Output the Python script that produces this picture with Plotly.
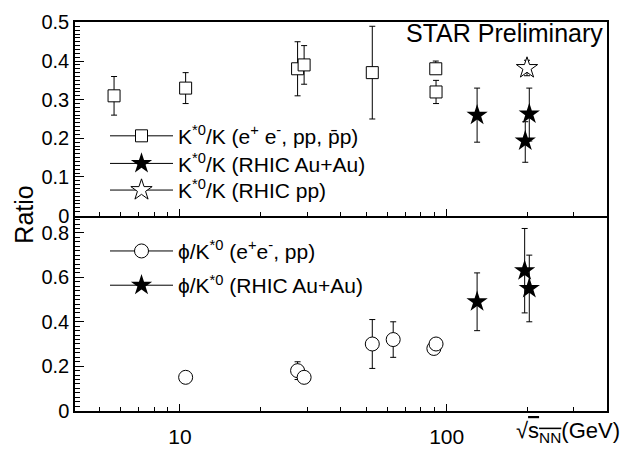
import plotly.graph_objects as go
import math

# ---- data ----
# K*0/K, elementary collisions (e+e-, pp, pbar-p)
kk_ee_x = [5.66, 10.5, 27.6, 29.2, 52.6, 91.0, 91.2]
kk_ee_y = [0.31, 0.33, 0.38, 0.39, 0.37, 0.38, 0.32]
kk_ee_ep = [0.05, 0.04, 0.07, 0.05, 0.12, 0.02, 0.03]
kk_ee_em = [0.05, 0.04, 0.07, 0.05, 0.12, 0.01, 0.03]
# K*0/K, RHIC Au+Au
kk_au_x = [130, 197, 204]
kk_au_y = [0.26, 0.193, 0.263]
kk_au_ep = [0.07, 0.05, 0.067]
kk_au_em = [0.07, 0.055, 0.07]
# K*0/K, RHIC pp
kk_pp_x = [200]
kk_pp_y = [0.382]
kk_pp_e = [0.02]
# phi/K*0, elementary (e+e-, pp)
pk_ee_x = [10.5, 27.6, 29.2, 52.6, 63.0, 89.5, 91.2]
pk_ee_y = [0.15, 0.18, 0.15, 0.30, 0.32, 0.28, 0.30]
pk_ee_e = [0.01, 0.04, 0.01, 0.11, 0.08, 0.01, 0.01]
# phi/K*0, RHIC Au+Au
pk_au_x = [130, 196, 204]
pk_au_y = [0.49, 0.63, 0.55]
pk_au_e = [0.13, 0.19, 0.15]

x_tickvals = [10, 100]
x_ticktext = ["10", "100"]
x_minor = [5, 6, 7, 8, 9, 20, 30, 40, 50, 60, 70, 80, 90, 200, 300]
y_top_ticks = [0, 0.1, 0.2, 0.3, 0.4, 0.5]
y_top_text = ["0", "0.1", "0.2", "0.3", "0.4", "0.5"]
y_bot_ticks = [0, 0.2, 0.4, 0.6, 0.8]
y_bot_text = ["0", "0.2", "0.4", "0.6", "0.8"]

leg_top_names = ["K<sup>*0</sup>/K (e<sup>+</sup> e<sup>-</sup>, pp, p\u0304p)",
                 "K<sup>*0</sup>/K (RHIC Au+Au)",
                 "K<sup>*0</sup>/K (RHIC pp)"]
leg_bot_names = ["\u03d5/K<sup>*0</sup> (e<sup>+</sup>e<sup>-</sup>, pp)",
                 "\u03d5/K<sup>*0</sup> (RHIC Au+Au)"]

FONT = "Liberation Sans, Arial, Helvetica, sans-serif"
W, H = 626, 454
L, R = 75, 607
T1, B1, B2 = 12, 215, 420

def err(ep, em=None, w=3):
    d = dict(type="data", array=ep, color="black", thickness=1, width=w, visible=True)
    if em is not None:
        d["symmetric"] = False
        d["arrayminus"] = em
    return d

sq = dict(symbol="square", size=12, color="white", line=dict(color="black", width=1))
fstar = dict(symbol="star", size=16, color="black", line=dict(color="black", width=0))
ostar = dict(symbol="star", size=16, color="white", line=dict(color="black", width=1))
circ = dict(symbol="circle", size=14, color="white", line=dict(color="black", width=1))

fig = go.Figure()
# top panel
fig.add_trace(go.Scatter(x=kk_ee_x, y=kk_ee_y, mode="markers", marker=sq,
                         error_y=err(kk_ee_ep, kk_ee_em), xaxis="x2", yaxis="y2", showlegend=False))
fig.add_trace(go.Scatter(x=kk_au_x, y=kk_au_y, mode="markers", marker=fstar,
                         error_y=err(kk_au_ep, kk_au_em), xaxis="x2", yaxis="y2", showlegend=False))
fig.add_trace(go.Scatter(x=kk_pp_x, y=kk_pp_y, mode="markers", marker=ostar,
                         error_y=err(kk_pp_e), xaxis="x2", yaxis="y2", showlegend=False))
# bottom panel
fig.add_trace(go.Scatter(x=pk_ee_x, y=pk_ee_y, mode="markers", marker=circ,
                         error_y=err(pk_ee_e), xaxis="x", yaxis="y", showlegend=False))
fig.add_trace(go.Scatter(x=pk_au_x, y=pk_au_y, mode="markers", marker=fstar,
                         error_y=err(pk_au_e), xaxis="x", yaxis="y", showlegend=False))

# legend entries, each in its own legend for exact placement
leg_rows_top = [110, 139, 167]
leg_rows_bot = [231, 267]
legend_layouts = {}
k = 1
for name, mk, top in zip(leg_top_names, [sq, fstar, ostar], leg_rows_top):
    lname = "legend" if k == 1 else "legend%d" % k
    fig.add_trace(go.Scatter(x=[None], y=[None], mode="lines+markers", name=name,
                             marker=mk, line=dict(color="black", width=1),
                             xaxis="x2", yaxis="y2", legend=lname))
    legend_layouts[lname] = top
    k += 1
for name, mk, top in zip(leg_bot_names, [circ, fstar], leg_rows_bot):
    lname = "legend%d" % k
    fig.add_trace(go.Scatter(x=[None], y=[None], mode="lines+markers", name=name,
                             marker=mk, line=dict(color="black", width=1),
                             xaxis="x", yaxis="y", legend=lname))
    legend_layouts[lname] = top
    k += 1

xr = [math.log10(4.04), math.log10(399)]
xcommon = dict(type="log", range=xr, showline=True, linecolor="black", linewidth=1.5,
               ticks="inside", ticklen=7, tickcolor="black", tickwidth=1,
               tickvals=x_tickvals, ticktext=x_ticktext, ticklabelstandoff=6,
               minor=dict(tickvals=x_minor, ticks="inside", ticklen=4, tickcolor="black", tickwidth=1),
               showgrid=False, zeroline=False, domain=[L / W, R / W],
               tickfont=dict(family=FONT, size=21, color="black"))
ycommon = dict(showline=True, mirror=True, linecolor="black", linewidth=1.5,
               ticks="inside", ticklen=9, tickcolor="black", tickwidth=1,
               showgrid=False, zeroline=False,
               tickfont=dict(family=FONT, size=20, color="black"))

layout = dict(
    width=W, height=H, margin=dict(l=0, r=0, t=0, b=0),
    paper_bgcolor="white", plot_bgcolor="white",
    font=dict(family=FONT, size=21, color="black"),
    xaxis=dict(**xcommon, anchor="y", mirror=False),
    xaxis2=dict(**xcommon, anchor="y2", matches="x", showticklabels=False, mirror=True),
    yaxis=dict(**ycommon, anchor="x", range=[0, 0.878], tickvals=y_bot_ticks, ticktext=y_bot_text,
               domain=[1 - B2 / H, 1 - B1 / H],
               minor=dict(dtick=0.02, ticks="inside", ticklen=5, tickcolor="black", tickwidth=1)),
    yaxis2=dict(**ycommon, anchor="x2", range=[0, 0.5], tickvals=y_top_ticks, ticktext=y_top_text,
                domain=[1 - B1 / H, 1 - T1 / H],
                minor=dict(dtick=0.01, ticks="inside", ticklen=5, tickcolor="black", tickwidth=1)),
    annotations=[
        dict(text="STAR Preliminary", x=605 / W, y=1 - 23 / H, xref="paper", yref="paper",
             xanchor="right", yanchor="middle", showarrow=False,
             font=dict(family=FONT, size=25, color="black")),
        dict(text="Ratio", x=24 / W, y=1 - 214 / H, xref="paper", yref="paper",
             xanchor="center", yanchor="middle", showarrow=False, textangle=-90,
             font=dict(family=FONT, size=25, color="black")),
        dict(text="\u221a<span style='text-decoration:overline'>s<sub>NN</sub></span>(GeV)",
             x=622 / W, y=1 - 442 / H, xref="paper", yref="paper",
             xanchor="right", yanchor="middle", showarrow=False,
             font=dict(family=FONT, size=22, color="black")),
    ],
)
for lname, top in legend_layouts.items():
    layout[lname] = dict(x=105 / W, y=1 - top / H, xanchor="left", yanchor="top",
                         bgcolor="rgba(0,0,0,0)", borderwidth=0,
                         font=dict(family=FONT, size=21, color="black"), itemwidth=63)
fig.update_layout(**layout)

fig.write_html("out.html")
